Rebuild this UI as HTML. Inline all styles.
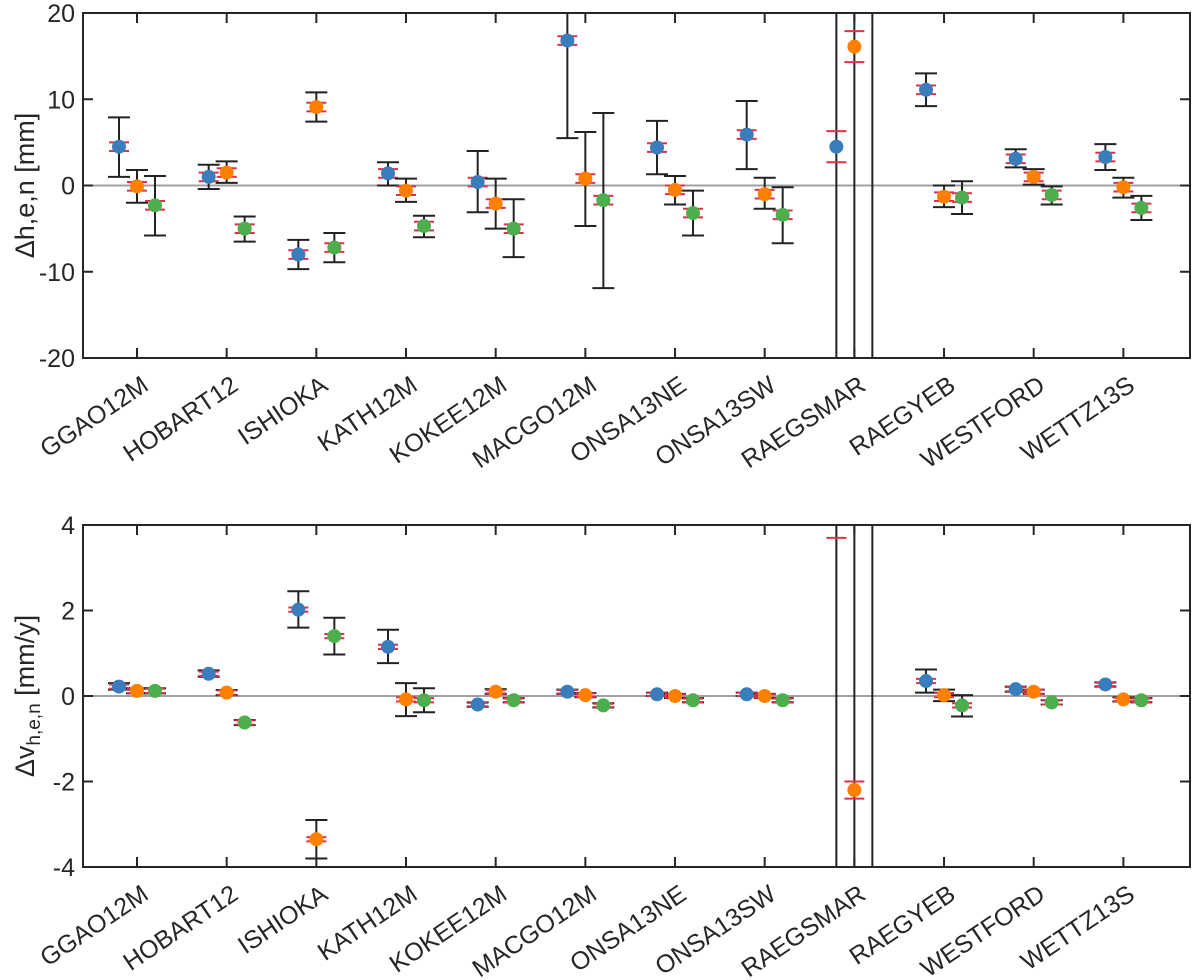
<!DOCTYPE html>
<html><head><meta charset="utf-8"><style>
body{margin:0;background:#fff;overflow:hidden}
svg{display:block;font-family:"Liberation Sans",Arial,sans-serif}
</style></head><body>
<svg id="c" width="1200" height="980" viewBox="0 0 1200 980"></svg>
<script>
const stations=["GGAO12M","HOBART12","ISHIOKA","KATH12M","KOKEE12M","MACGO12M","ONSA13NE","ONSA13SW","RAEGSMAR","RAEGYEB","WESTFORD","WETTZ13S"];
// top panel [value, lower, upper] per series (h, e, n)
const topH=[[4.5,1.0,7.9],[1.0,-0.4,2.4],[-8.0,-9.7,-6.3],[1.4,0,2.7],[0.4,-3.1,4.0],[16.8,5.5,25],[4.4,1.3,7.5],[5.9,1.9,9.8],[4.5,-99,99],[11.1,9.2,13.0],[3.1,2.1,4.2],[3.3,1.8,4.8]];
const topE=[[-0.1,-2.0,1.8],[1.5,0.3,2.8],[9.1,7.4,10.8],[-0.6,-1.9,0.8],[-2.1,-5.0,0.8],[0.8,-4.7,6.2],[-0.5,-2.2,1.1],[-1.0,-2.7,0.9],[16.1,-99,99],[-1.3,-2.5,0.0],[1.0,0.1,1.9],[-0.2,-1.4,0.9]];
const topN=[[-2.3,-5.8,1.1],[-5.0,-6.5,-3.6],[-7.2,-8.9,-5.5],[-4.7,-6.0,-3.5],[-5.0,-8.3,-1.6],[-1.7,-11.9,8.4],[-3.2,-5.8,-0.6],[-3.4,-6.7,-0.2],[60,-99,99],[-1.4,-3.3,0.5],[-1.1,-2.2,-0.1],[-2.6,-4.0,-1.2]];
const topRed=[0.5,0.5,0.5,0.5,0.5,0.5,0.5,0.5,1.8,0.5,0.5,0.5];
const botH=[[0.22,0.15,0.3],[0.52,0.45,0.6],[2.02,1.6,2.45],[1.15,0.77,1.55],[-0.2,-0.25,-0.15],[0.1,0.05,0.15],[0.04,0,0.08],[0.04,0,0.08],[9,-99,99],[0.35,0.08,0.62],[0.16,0.1,0.22],[0.27,0.22,0.32]];
const botE=[[0.12,0.06,0.18],[0.08,0.02,0.14],[-3.35,-3.8,-2.9],[-0.08,-0.47,0.3],[0.1,0.05,0.16],[0.02,-0.03,0.07],[0.0,-0.05,0.05],[0.0,-0.05,0.05],[-2.2,-99,99],[0.02,-0.12,0.15],[0.1,0.05,0.15],[-0.08,-0.13,-0.03]];
const botN=[[0.12,0.06,0.18],[-0.62,-0.68,-0.56],[1.4,0.97,1.83],[-0.1,-0.38,0.18],[-0.1,-0.15,-0.05],[-0.22,-0.27,-0.17],[-0.1,-0.15,-0.05],[-0.1,-0.15,-0.05],[-9,-99,99],[-0.22,-0.48,0.02],[-0.15,-0.2,-0.1],[-0.1,-0.15,-0.05]];
const botRed=[0.05,0.05,0.05,0.05,0.04,0.04,0.04,0.04,0.2,0.05,0.05,0.04];
const botRedH8=3.7;
const colors=["#3a7dbd","#ff8000","#4cae4c"];
const NS="http://www.w3.org/2000/svg";
const svg=document.getElementById("c");
function el(t,a,p){const e=document.createElementNS(NS,t);for(const k in a)e.setAttribute(k,a[k]);(p||svg).appendChild(e);return e;}
const xc=i=>137+89.67*i;
const offs=[-18,0,18];
function panel(name,top,bot,ymin,ymax,ticks,series,red,labelFn){
  const L=83,R=1190;
  const g=el("g",{});
  
  
  const y=v=>bot-(v-ymin)/(ymax-ymin)*(bot-top);
  const clip=el("clipPath",{id:"cl"+name},g);
  el("rect",{x:L,y:top,width:R-L,height:bot-top},clip);
  const zl=el("line",{x1:L,x2:R,y1:y(0),y2:y(0),stroke:"#a0a0a0","stroke-width":2},g);
  
  
  const pg=el("g",{"clip-path":"url(#cl"+name+")"},g);
  series.forEach((s,si)=>{
    s.forEach((d,i)=>{
      const x=xc(i)+offs[si];
      const eg=el("g",{},pg);
      
      
      const lo=Math.max(d[1],ymin-5),hi=Math.min(d[2],ymax+5);
      el("line",{x1:x,x2:x,y1:y(lo),y2:y(hi),stroke:"#222","stroke-width":2},eg);
      if(d[1]>ymin) el("line",{x1:x-11,x2:x+11,y1:y(d[1]),y2:y(d[1]),stroke:"#222","stroke-width":2},eg);
      if(d[2]<ymax) el("line",{x1:x-11,x2:x+11,y1:y(d[2]),y2:y(d[2]),stroke:"#222","stroke-width":2},eg);
      let r=red[i];
      let rv=d[0];
      [rv-r,rv+r].forEach(v=>el("line",{x1:x-10,x2:x+10,y1:y(v),y2:y(v),stroke:"#e0304a","stroke-width":2},eg));
      el("circle",{cx:x,cy:y(d[0]),r:7,fill:colors[si]},eg);
    });
  });
  const box=el("rect",{x:L,y:top,width:R-L,height:bot-top,fill:"none",stroke:"#262626","stroke-width":2},g);
  
  
  ticks.forEach(t=>{
    el("line",{x1:L,x2:L+10,y1:y(t),y2:y(t),stroke:"#262626","stroke-width":2},g);
    el("line",{x1:R,x2:R-10,y1:y(t),y2:y(t),stroke:"#262626","stroke-width":2},g);
    const tx=el("text",{x:L-8,y:y(t)+9,"text-anchor":"end","font-size":25,fill:"#262626"},g);
    tx.textContent=t;
    
    
  });
  stations.forEach((s,i)=>{
    const x=xc(i);
    el("line",{x1:x,x2:x,y1:bot,y2:bot-10,stroke:"#262626","stroke-width":2},g);
    el("line",{x1:x,x2:x,y1:top,y2:top+10,stroke:"#262626","stroke-width":2},g);
    const ax=x+13,ay=bot+31;
    const tx=el("text",{x:ax,y:ay,"text-anchor":"end","font-size":25,fill:"#262626",transform:`rotate(-34 ${ax} ${ay})`},g);
    tx.textContent=s;
    
    
  });
  labelFn(g,(top+bot)/2);
}
panel("top-panel",13,358,-20,20,[-20,-10,0,10,20],[topH,topE,topN],topRed,(g,cy)=>{
  const t=el("text",{x:0,y:0,"text-anchor":"middle","font-size":27,fill:"#262626",transform:`translate(34 ${cy}) rotate(-90)`},g);
  t.textContent="Δh,e,n [mm]";
  
  
});
panel("bottom-panel",525,867,-4,4,[-4,-2,0,2,4],[botH,botE,botN],botRed,(g,cy)=>{
  const t=el("text",{x:0,y:0,"text-anchor":"middle","font-size":27,fill:"#262626",transform:`translate(34 ${cy}) rotate(-90)`},g);
  t.innerHTML='Δv<tspan font-size="19" dy="6">h,e,n</tspan><tspan dy="-6"> [mm/y]</tspan>';
  
  
});
// RAEGSMAR blue red cap in bottom panel
const capY=867-(botRedH8+4)/8*342;
const cap=el("line",{x1:xc(8)-18-10,x2:xc(8)-18+10,y1:capY,y2:capY,stroke:"#e0304a","stroke-width":2});


</script>
</body></html>
